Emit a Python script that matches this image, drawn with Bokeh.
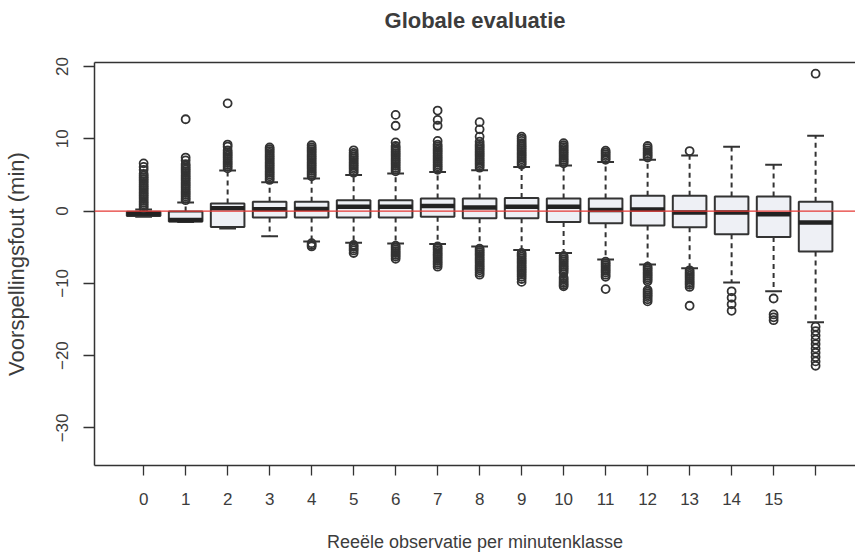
from bokeh.plotting import figure
from bokeh.models import Span, FixedTicker, LinearAxis, Range1d
from bokeh.embed import file_html
from bokeh.resources import INLINE

# ---------------- data ----------------
classes = list(range(17))
tick_labels = [str(i) for i in range(16)] + [""]

q1 = [-0.7, -1.45, -2.2, -0.9, -0.9, -0.9, -0.9, -0.8, -1.0, -1.0, -1.5, -1.7, -2.0, -2.25, -3.2, -3.6, -5.6]
median = [-0.35, -1.25, 0.4, 0.25, 0.3, 0.6, 0.6, 0.7, 0.5, 0.6, 0.6, 0.15, 0.2, -0.2, -0.2, -0.45, -1.6]
q3 = [-0.1, -0.05, 1.05, 1.3, 1.3, 1.5, 1.5, 1.75, 1.75, 1.8, 1.75, 1.75, 2.1, 2.1, 2.0, 2.0, 1.3]
whisk_lo = [-0.8, -1.5, -2.4, -3.5, -4.2, -4.4, -4.5, -4.55, -4.9, -5.4, -5.8, -6.7, -7.4, -7.9, -9.9, -11.1, -15.4]
whisk_hi = [0.2, 1.2, 5.6, 4.0, 4.5, 5.0, 5.2, 5.4, 5.65, 6.1, 6.3, 6.8, 7.1, 7.7, 8.9, 6.4, 10.4]

outliers_high = [
    [0.4, 0.65, 0.9, 1.15, 1.4, 1.65, 1.9, 2.15, 2.4, 2.65, 2.9, 3.15, 3.4, 3.65, 3.9, 4.15, 4.4, 4.65, 4.9, 5.15, 5.7, 6.1, 6.6],
    [1.5, 1.75, 2.0, 2.25, 2.5, 2.75, 3.0, 3.25, 3.5, 3.75, 4.0, 4.25, 4.5, 4.75, 5.0, 5.25, 5.5, 5.75, 6.0, 6.25, 6.5, 7.0, 7.4, 12.7],
    [5.9, 6.15, 6.4, 6.65, 6.9, 7.15, 7.4, 7.65, 7.9, 8.15, 8.4, 8.9, 9.2, 14.9],
    [4.3, 4.55, 4.8, 5.05, 5.3, 5.55, 5.8, 6.05, 6.3, 6.55, 6.8, 7.05, 7.3, 7.55, 7.8, 8.05, 8.3, 8.55, 8.8],
    [4.8, 5.05, 5.3, 5.55, 5.8, 6.05, 6.3, 6.55, 6.8, 7.05, 7.3, 7.55, 7.8, 8.05, 8.3, 8.55, 8.8, 9.1],
    [5.3, 5.55, 5.8, 6.05, 6.3, 6.55, 6.8, 7.05, 7.3, 7.55, 7.8, 8.05, 8.4],
    [5.5, 5.75, 6.0, 6.25, 6.5, 6.75, 7.0, 7.25, 7.5, 7.75, 8.0, 8.25, 8.5, 8.75, 9.0, 9.5, 11.8, 13.3],
    [5.7, 5.95, 6.2, 6.45, 6.7, 6.95, 7.2, 7.45, 7.7, 7.95, 8.2, 8.45, 8.7, 8.95, 9.2, 9.7, 11.8, 12.6, 13.9],
    [6.0, 6.25, 6.5, 6.75, 7.0, 7.25, 7.5, 7.75, 8.0, 8.25, 8.5, 8.75, 9.0, 9.25, 9.6, 10.3, 11.3, 12.3],
    [6.4, 6.65, 6.9, 7.15, 7.4, 7.65, 7.9, 8.15, 8.4, 8.65, 8.9, 9.15, 9.4, 9.7, 10.0, 10.3],
    [6.6, 6.85, 7.1, 7.35, 7.6, 7.85, 8.1, 8.35, 8.6, 8.85, 9.1, 9.4],
    [7.1, 7.35, 7.6, 7.85, 8.1, 8.35],
    [7.4, 7.65, 7.9, 8.15, 8.4, 8.7, 9.0],
    [8.3],
    [],
    [],
    [19.0],
]
outliers_low = [
    [],
    [],
    [],
    [],
    [-4.45, -4.7, -4.9],
    [-4.7, -4.95, -5.2, -5.45, -5.8],
    [-4.8, -5.05, -5.3, -5.55, -5.8, -6.05, -6.3, -6.6],
    [-4.9, -5.15, -5.4, -5.65, -5.9, -6.15, -6.4, -6.65, -6.9, -7.15, -7.4, -7.7],
    [-5.2, -5.45, -5.7, -5.95, -6.2, -6.45, -6.7, -6.95, -7.2, -7.45, -7.7, -7.95, -8.2, -8.5, -8.8],
    [-5.8, -6.05, -6.3, -6.55, -6.8, -7.05, -7.3, -7.55, -7.8, -8.05, -8.3, -8.55, -8.8, -9.1, -9.4, -9.8],
    [-6.2, -6.45, -6.7, -6.95, -7.2, -7.45, -7.7, -7.95, -8.2, -8.5, -9.2, -9.45, -9.7, -9.95, -10.2, -10.4],
    [-7.0, -7.25, -7.5, -7.75, -8.0, -8.25, -8.5, -8.8, -9.1, -10.8],
    [-7.7, -7.95, -8.2, -8.45, -8.7, -8.95, -9.2, -9.45, -9.7, -10.9, -11.15, -11.4, -11.65, -11.9, -12.2, -12.5],
    [-8.2, -8.45, -8.7, -8.95, -9.2, -9.45, -9.7, -9.95, -10.2, -10.5, -13.1],
    [-11.1, -12.0, -12.9, -13.8],
    [-12.1, -14.3, -14.7, -15.1],
    [-16.0, -16.6, -17.2, -17.8, -18.4, -19.0, -19.6, -20.2, -20.8, -21.4],
]
y_ticks = [-30, -20, -10, 0, 10, 20]
title_text = "Globale evaluatie"

# ---------------- styling ----------------
INK = "#333333"
TXT = "#3c3c3c"
FONT = "Liberation Sans"
BOX_W = 0.8
CAP_W = 0.4

p = figure(width=855, height=554, title_location=None,
           x_range=Range1d(-1.17, 16.95), y_range=Range1d(-35.2, 20.55),
           output_backend="svg", toolbar_location=None,
           min_border_left=94, min_border_right=0, min_border_top=62, min_border_bottom=88)
p.grid.visible = False
p.outline_line_color = None
p.background_fill_color = "white"
p.border_fill_color = "white"

# whiskers
xs_left = [c - BOX_W / 2 for c in classes]
xs_right = [c + BOX_W / 2 for c in classes]
cap_left = [c - CAP_W / 2 for c in classes]
cap_right = [c + CAP_W / 2 for c in classes]

p.segment(x0=classes, y0=q3, x1=classes, y1=whisk_hi, line_color=INK, line_width=2, line_dash="5 4")
p.segment(x0=classes, y0=q1, x1=classes, y1=whisk_lo, line_color=INK, line_width=2, line_dash="5 4")
p.segment(x0=cap_left, y0=whisk_hi, x1=cap_right, y1=whisk_hi, line_color=INK, line_width=2)
p.segment(x0=cap_left, y0=whisk_lo, x1=cap_right, y1=whisk_lo, line_color=INK, line_width=2)

# boxes
p.vbar(x=classes, width=BOX_W, top=q3, bottom=q1, fill_color="#eef0f5", line_color=INK, line_width=2)
p.segment(x0=xs_left, y0=median, x1=xs_right, y1=median, line_color="#222222", line_width=4.5)

# outliers
ox, oy = [], []
for c, hi, lo in zip(classes, outliers_high, outliers_low):
    for v in hi + lo:
        ox.append(c)
        oy.append(v)
p.scatter(ox, oy, marker="circle", size=8, fill_color=None, line_color=INK, line_width=1.8)

# reference line at zero
p.add_layout(Span(location=0, dimension="width", line_color="#e53935", line_width=1.2))

# axes
xa = p.xaxis[0]
xa.ticker = FixedTicker(ticks=classes)
xa.major_label_overrides = {c: l for c, l in zip(classes, tick_labels)}
xa.minor_tick_line_color = None
xa.major_tick_in = 0
xa.major_tick_out = 10
xa.axis_line_color = INK
xa.axis_line_width = 1.5
xa.major_tick_line_color = INK
xa.major_tick_line_width = 1.3
xa.major_label_text_font = FONT
xa.major_label_text_font_size = "17px"
xa.major_label_text_color = TXT
xa.major_label_standoff = 17
xa.axis_label = "Reeële observatie per minutenklasse"
xa.axis_label_text_font = FONT
xa.axis_label_text_font_size = "18px"
xa.axis_label_text_font_style = "normal"
xa.axis_label_text_color = TXT
xa.axis_label_standoff = 24

ya = p.yaxis[0]
ya.ticker = FixedTicker(ticks=y_ticks)
ya.minor_tick_line_color = None
ya.major_tick_in = 0
ya.major_tick_out = 11
ya.axis_line_color = INK
ya.axis_line_width = 1.5
ya.major_tick_line_color = INK
ya.major_tick_line_width = 1.3
ya.major_label_orientation = "vertical"
ya.major_label_text_font = FONT
ya.major_label_text_font_size = "17px"
ya.major_label_text_color = TXT
ya.major_label_standoff = 15
ya.axis_label = "Voorspellingsfout (min)"
ya.axis_label_text_font = FONT
ya.axis_label_text_font_size = "22px"
ya.axis_label_text_font_style = "normal"
ya.axis_label_text_color = TXT
ya.axis_label_standoff = 25

# top border line, carrying the chart title as its label
top_axis = LinearAxis(ticker=FixedTicker(ticks=[]), major_tick_out=0, major_tick_in=0,
                      minor_tick_out=0, major_label_text_font_size="0px",
                      major_label_standoff=0, axis_line_color=INK, axis_line_width=1.5,
                      axis_label=title_text, axis_label_standoff=30,
                      axis_label_text_font=FONT, axis_label_text_font_size="22px",
                      axis_label_text_font_style="bold", axis_label_text_color=TXT)
p.add_layout(top_axis, "above")

open("out.html", "w").write(file_html(p, INLINE))
